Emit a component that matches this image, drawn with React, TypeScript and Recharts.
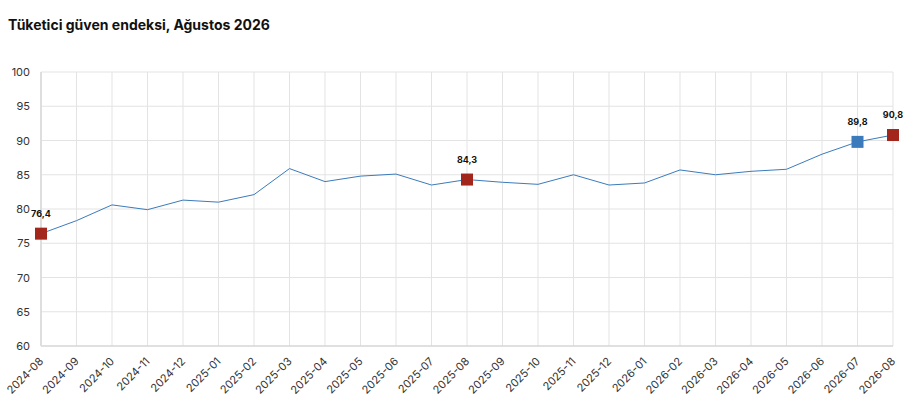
import { LineChart, Line, XAxis, YAxis, CartesianGrid } from "recharts";

const months = [
  "2024-08", "2024-09", "2024-10", "2024-11", "2024-12",
  "2025-01", "2025-02", "2025-03", "2025-04", "2025-05", "2025-06",
  "2025-07", "2025-08", "2025-09", "2025-10", "2025-11", "2025-12",
  "2026-01", "2026-02", "2026-03", "2026-04", "2026-05", "2026-06",
  "2026-07", "2026-08",
];

const values = [
  76.4, 78.3, 80.6, 79.9, 81.3, 81.0, 82.1, 85.9, 84.0, 84.8, 85.1, 83.5,
  84.3, 83.9, 83.6, 85.0, 83.5, 83.8, 85.7, 85.0, 85.5, 85.8, 88.0, 89.8, 90.8,
];

// highlighted months: year-ago comparisons in red, previous month in blue
const highlights: Record<string, string> = {
  "2024-08": "#a3261c",
  "2025-08": "#a3261c",
  "2026-07": "#3b7bbb",
  "2026-08": "#a3261c",
};

const yTicks = [60, 65, 70, 75, 80, 85, 90, 95, 100];

const data = months.map((m, i) => ({ month: m, value: values[i] }));

const FONT = "Inter, 'Noto Sans', sans-serif";

function Marker(props: any) {
  const { cx, cy, payload } = props;
  const color = highlights[payload.month];
  if (!color || cx == null || cy == null) return null;
  const s = 12;
  return (
    <g key={payload.month}>
      <rect x={cx - s / 2} y={cy - s / 2} width={s} height={s} fill={color} />
      <text
        x={cx}
        y={cy - 17}
        textAnchor="middle"
        fontSize={9}
        fontWeight={700}
        fontFamily={FONT}
        fill="#111"
      >
        {payload.value.toFixed(1).replace(".", ",")}
      </text>
    </g>
  );
}

function MonthTick(props: any) {
  const { x, y, payload } = props;
  return (
    <text
      x={x + 3}
      y={y + 8}
      textAnchor="end"
      fontSize={11}
      fontFamily={FONT}
      fill="#333"
      transform={`rotate(-45, ${x + 3}, ${y + 8})`}
    >
      {payload.value}
    </text>
  );
}

function ValueTick(props: any) {
  const { y, payload } = props;
  return (
    <text
      x={30}
      y={y}
      dy={4}
      textAnchor="end"
      fontSize={11}
      fontFamily={FONT}
      fill="#333"
    >
      {payload.value}
    </text>
  );
}

export default function App() {
  return (
    <div
      style={{
        position: "absolute",
        left: 0,
        top: 0,
        width: 923,
        height: 420,
        background: "#fff",
        fontFamily: FONT,
      }}
    >
      <div
        style={{
          position: "absolute",
          left: 8,
          top: 16,
          fontSize: 14,
          fontWeight: 700,
          color: "#111",
        }}
      >
        Tüketici güven endeksi, Ağustos 2026
      </div>
      <LineChart
        width={923}
        height={420}
        data={data}
        margin={{ top: 72, right: 30, left: 0, bottom: 0 }}
      >
        <CartesianGrid stroke="#e3e3e3" />
        <XAxis
          dataKey="month"
          interval={0}
          tick={<MonthTick />}
          tickLine={false}
          axisLine={{ stroke: "#cfcfcf" }}
          height={74}
        />
        <YAxis
          domain={[60, 100]}
          ticks={yTicks}
          width={41}
          tickLine={false}
          axisLine={{ stroke: "#dedede", strokeWidth: 2 }}
          tick={<ValueTick />}
        />
        <Line
          type="linear"
          dataKey="value"
          stroke="#3b7bbb"
          strokeWidth={1}
          dot={<Marker />}
          activeDot={false}
          isAnimationActive={false}
        />
      </LineChart>
    </div>
  );
}
